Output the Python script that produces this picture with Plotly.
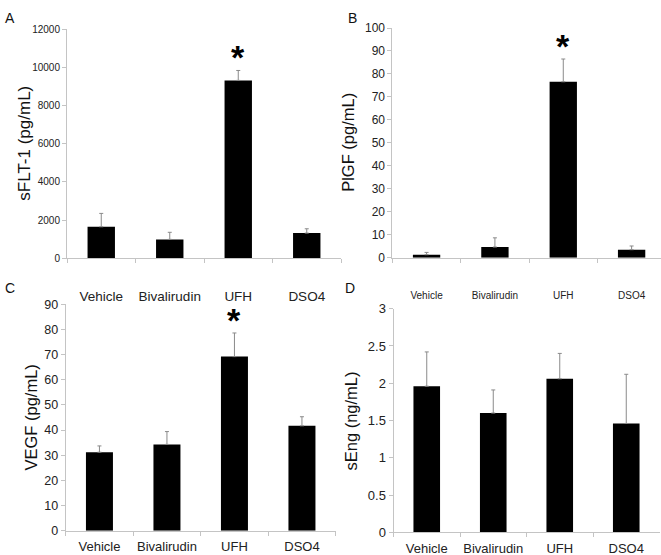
import plotly.graph_objects as go

categories = ["Vehicle", "Bivalirudin", "UFH", "DSO4"]

sflt1_mean = [1650, 990, 9310, 1320]
sflt1_err = [700, 370, 520, 225]

plgf_mean = [1.3, 4.65, 76.6, 3.5]
plgf_err = [1.0, 4.0, 9.9, 1.6]

vegf_mean = [31.2, 34.3, 69.2, 41.7]
vegf_err = [2.5, 5.1, 9.4, 3.6]

seng_mean = [1.96, 1.60, 2.06, 1.46]
seng_err = [0.46, 0.31, 0.34, 0.66]

panel_letters = ["A", "B", "C", "D"]
y_titles = ["sFLT-1 (pg/mL)", "PlGF (pg/mL)", "VEGF (pg/mL)", "sEng (ng/mL)"]
significant = ["UFH"]

W, H = 661, 555
FONT = "Liberation Sans, Arial, sans-serif"
AXIS_COL = "#c4c4c4"
TXT = "#222222"
ERR_COL = "#8a8a8a"

panels = [
    dict(m=sflt1_mean, e=sflt1_err, xd=(67, 341), yd=(29, 258.3), yr=[0, 12000], dt=2000,
         xr=[-0.5, 3.5], yfs=10, xfs=13.5, tfs=17, sx=25),
    dict(m=plgf_mean, e=plgf_err, xd=(392.4, 661), yd=(28, 257.7), yr=[0, 100], dt=10,
         xr=[-0.5, 3.43], yfs=12, xfs=10, tfs=16.5, sx=28),
    dict(m=vegf_mean, e=vegf_err, xd=(65.7, 335.7), yd=(304.3, 530.7), yr=[0, 90], dt=10,
         xr=[-0.5, 3.5], yfs=12.5, xfs=13, tfs=16.5, sx=4),
    dict(m=seng_mean, e=seng_err, xd=(393.5, 659.5), yd=(308.7, 532.3), yr=[0, 3], dt=0.5,
         xr=[-0.5, 3.5], yfs=13, xfs=13, tfs=16.5, sx=4),
]

fig = go.Figure()
layout = dict(
    width=W, height=H, margin=dict(l=0, r=0, t=0, b=0),
    paper_bgcolor="white", plot_bgcolor="white", showlegend=False,
    font=dict(family=FONT, color=TXT),
    bargap=0.6,
)
annotations = []
letter_pos = [(3, 8), (346, 8), (3, 278), (343, 278)]
title_x = [25, 348, 30, 350]

for i, p in enumerate(panels):
    n = "" if i == 0 else str(i + 1)
    xa, ya = "x" + n, "y" + n
    fig.add_trace(go.Bar(
        x=categories, y=p["m"], xaxis=xa, yaxis=ya,
        marker=dict(color="black", line=dict(width=0)),
        error_y=dict(type="data", symmetric=False, array=p["e"],
                     arrayminus=[0] * len(p["e"]), color=ERR_COL,
                     thickness=1, width=2),
        hoverinfo="skip",
    ))
    x0, x1 = p["xd"]
    yt, yb = p["yd"]
    layout["xaxis" + n] = dict(
        domain=[x0 / W, min(x1 / W, 1.0)], anchor=ya, type="category",
        range=p["xr"], showline=True, linecolor=AXIS_COL, linewidth=1,
        ticks="outside", tickson="boundaries", ticklen=4, tickcolor=AXIS_COL,
        tickangle=0, automargin=False, ticklabelstandoff=p["sx"],
        tickfont=dict(size=p["xfs"], color=TXT), showgrid=False, zeroline=False,
        fixedrange=True,
    )
    layout["yaxis" + n] = dict(
        domain=[1 - yb / H, 1 - yt / H], anchor=xa, range=p["yr"], dtick=p["dt"],
        tickformat="d" if i < 3 else "", automargin=False,
        showline=True, linecolor=AXIS_COL, linewidth=1, ticks="outside",
        ticklen=4, tickcolor=AXIS_COL, tickfont=dict(size=p["yfs"], color=TXT),
        showgrid=False, zeroline=False, fixedrange=True,
    )
    annotations.append(dict(
        text=y_titles[i], x=title_x[i] / W, y=1 - (yt + yb) / 2 / H,
        xref="paper", yref="paper", textangle=-90, showarrow=False,
        font=dict(size=p["tfs"], color="#111111", family=FONT),
        xanchor="center", yanchor="middle",
    ))
    lx, ly = letter_pos[i]
    annotations.append(dict(
        text=panel_letters[i], x=lx / W, y=1 - ly / H, xref="paper", yref="paper",
        showarrow=False, xanchor="left", yanchor="top",
        font=dict(size=14, color="#111111", family=FONT),
    ))
    if i < 3:
        for c in significant:
            k = categories.index(c)
            annotations.append(dict(
                text="<b>*</b>", x=c, y=p["m"][k] + p["e"][k], xref=xa, yref=ya,
                showarrow=False, xanchor="center", yanchor="bottom", yshift=-8,
                font=dict(size=34, color="black", family=FONT),
            ))

layout["annotations"] = annotations
fig.update_layout(**layout)
fig.write_html("out.html", config={"displayModeBar": False},
               post_script="document.body.style.margin='0px';document.body.style.overflow='hidden';")
